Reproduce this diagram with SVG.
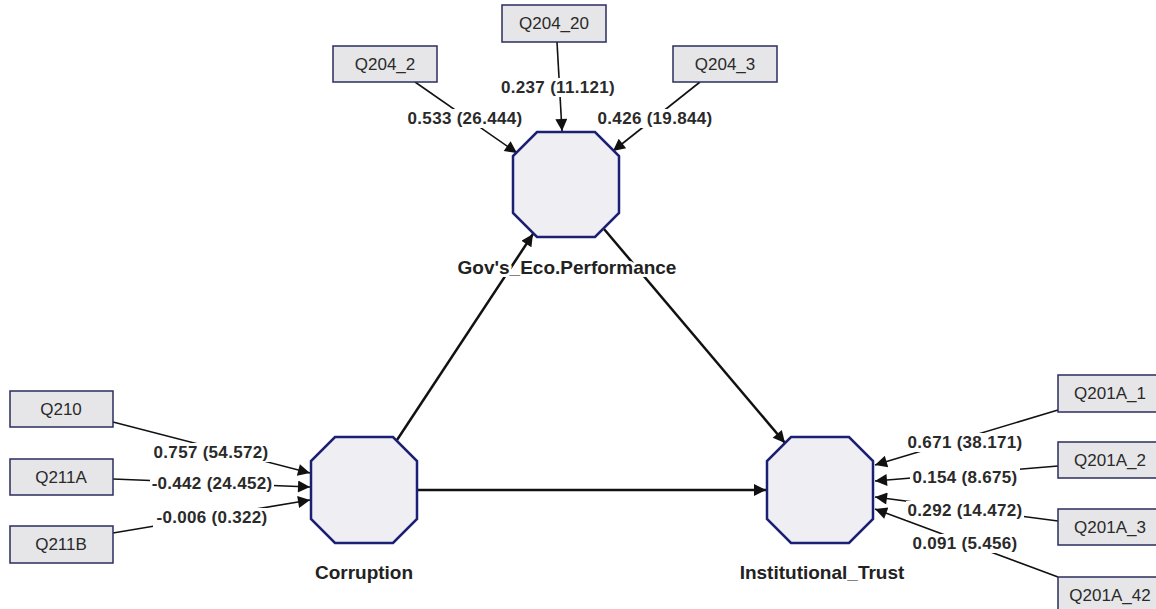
<svg xmlns="http://www.w3.org/2000/svg" width="1156" height="609" viewBox="0 0 1156 609">
<style>
.bg{fill:#ffffff}
.box{fill:#e6e6e8;stroke:#2a2c5e;stroke-width:1.5}
.oct{fill:#eeeef3;stroke:#1c2075;stroke-width:2.5}
.bt{font-family:"Liberation Sans",Arial,sans-serif;font-size:17px;fill:#2a2a2a;text-anchor:middle}
.nl{font-family:"Liberation Sans",Arial,sans-serif;font-size:19px;font-weight:bold;fill:#222;text-anchor:middle;stroke:#fff;stroke-width:6;stroke-linejoin:round;paint-order:stroke}
.el{font-family:"Liberation Sans",Arial,sans-serif;font-size:17px;font-weight:bold;fill:#2a2a2a;text-anchor:middle;letter-spacing:0.3px}
.lb{fill:#ffffff}
.c{stroke:#111;stroke-width:1.6;fill:none;marker-end:url(#ah)}
.s{stroke:#111;stroke-width:2.5;fill:none;marker-end:url(#ahs)}
</style>
<defs>
<marker id="ah" viewBox="0 0 10 10" refX="10" refY="5" markerWidth="9.5" markerHeight="7.5" markerUnits="strokeWidth" orient="auto">
<path d="M0,0 L10,5 L0,10 Z" fill="#111"/>
</marker>
<marker id="ahs" viewBox="0 0 10 10" refX="10" refY="5" markerWidth="6" markerHeight="4.8" markerUnits="strokeWidth" orient="auto">
<path d="M0,0 L10,5 L0,10 Z" fill="#111"/>
</marker>
</defs>
<rect class="bg" x="0" y="0" width="1156" height="609"/>
<g id="connectors">
<line class="c" x1="557" y1="42" x2="562" y2="131"/>
<line class="c" x1="415" y1="82" x2="517" y2="153"/>
<line class="c" x1="700" y1="82" x2="613" y2="151"/>
<line class="c" x1="113" y1="422" x2="310" y2="473"/>
<line class="c" x1="113" y1="479" x2="310" y2="487"/>
<line class="c" x1="113" y1="533" x2="310" y2="500"/>
<line class="c" x1="1058" y1="410" x2="875" y2="465"/>
<line class="c" x1="1058" y1="466" x2="875" y2="481"/>
<line class="c" x1="1058" y1="521" x2="875" y2="497"/>
<line class="c" x1="1058" y1="577" x2="875" y2="509"/>
<line class="s" x1="397" y1="440" x2="533" y2="234"/>
<line class="s" x1="604" y1="229" x2="785" y2="443"/>
<line class="s" x1="417" y1="490" x2="766" y2="490"/>
<rect class="lb" x="499" y="78" width="118" height="19"/>
<rect class="lb" x="406" y="109" width="118" height="19"/>
<rect class="lb" x="596" y="109" width="118" height="19"/>
<rect class="lb" x="152" y="443" width="118" height="19"/>
<rect class="lb" x="150" y="474" width="124" height="19"/>
<rect class="lb" x="153" y="508" width="118" height="19"/>
<rect class="lb" x="906" y="433" width="118" height="19"/>
<rect class="lb" x="910" y="468" width="110" height="19"/>
<rect class="lb" x="906" y="501" width="118" height="19"/>
<rect class="lb" x="910" y="534" width="110" height="19"/>
<text class="el" x="558" y="93">0.237 (11.121)</text>
<text class="el" x="465" y="124">0.533 (26.444)</text>
<text class="el" x="655" y="124">0.426 (19.844)</text>
<text class="el" x="211" y="458">0.757 (54.572)</text>
<text class="el" x="212" y="489">-0.442 (24.452)</text>
<text class="el" x="212" y="523">-0.006 (0.322)</text>
<text class="el" x="965" y="448">0.671 (38.171)</text>
<text class="el" x="965" y="483">0.154 (8.675)</text>
<text class="el" x="965" y="516">0.292 (14.472)</text>
<text class="el" x="965" y="549">0.091 (5.456)</text>
</g>
<g id="gov">
<polygon class="oct" points="537,132 595,132 619,156 619,213 595,237 537,237 513,213 513,156"/>
<text class="nl" x="567" y="274">Gov's_Eco.Performance</text>
</g>
<g id="corruption">
<polygon class="oct" points="335,437 393,437 417,461 417,519 393,543 335,543 311,519 311,461"/>
<text class="nl" x="364" y="579">Corruption</text>
</g>
<g id="trust">
<polygon class="oct" points="791,437 849,437 873,461 873,519 849,543 791,543 767,519 767,461"/>
<text class="nl" x="822" y="579">Institutional_Trust</text>
</g>
<g id="q204_20"><rect class="box" x="502" y="5" width="104" height="37"/><text class="bt" x="554" y="29">Q204_20</text></g>
<g id="q204_2"><rect class="box" x="333" y="46" width="104" height="36"/><text class="bt" x="385" y="70">Q204_2</text></g>
<g id="q204_3"><rect class="box" x="673" y="46" width="104" height="36"/><text class="bt" x="725" y="70">Q204_3</text></g>
<g id="q210"><rect class="box" x="10" y="391" width="103" height="36"/><text class="bt" x="61" y="415">Q210</text></g>
<g id="q211a"><rect class="box" x="10" y="459" width="103" height="36"/><text class="bt" x="61" y="483">Q211A</text></g>
<g id="q211b"><rect class="box" x="10" y="526" width="103" height="37"/><text class="bt" x="61" y="550">Q211B</text></g>
<g id="q201a_1"><rect class="box" x="1058" y="375" width="104" height="37"/><text class="bt" x="1110" y="399">Q201A_1</text></g>
<g id="q201a_2"><rect class="box" x="1058" y="442" width="104" height="36"/><text class="bt" x="1110" y="466">Q201A_2</text></g>
<g id="q201a_3"><rect class="box" x="1058" y="509" width="104" height="36"/><text class="bt" x="1110" y="533">Q201A_3</text></g>
<g id="q201a_42"><rect class="box" x="1058" y="577" width="104" height="37"/><text class="bt" x="1110" y="601">Q201A_42</text></g>
</svg>
